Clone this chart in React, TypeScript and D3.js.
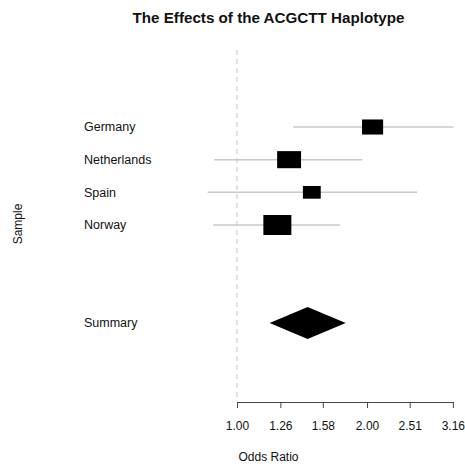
import React, { useEffect, useRef } from "react";
import * as d3 from "d3";

// study rows
const samples = ["Germany", "Netherlands", "Spain", "Norway"];
const oddsRatio = [2.06, 1.32, 1.49, 1.24];
const lowerCI = [1.35, 0.886, 0.855, 0.881];
const upperCI = [3.17, 1.95, 2.61, 1.73];
const weights = [0.21, 0.27, 0.15, 0.37];

// summary estimate
const summaryLabel = "Summary";
const summaryOR = 1.457;
const summaryLower = 1.19;
const summaryUpper = 1.785;

const tickValues = [1.0, 1.26, 1.58, 2.0, 2.51, 3.16];

const App = () => {
  const ref = useRef<SVGSVGElement>(null);

  useEffect(() => {
    const width = 465;
    const height = 466;
    const svg = d3.select(ref.current);
    svg.selectAll("*").remove();

    const font = "'Liberation Sans', Arial, Helvetica, sans-serif";

    const x = d3.scaleLog().domain([1, 3.1623]).range([237, 453]);
    // row index -> y (summary sits at row 6)
    const y = d3.scaleLinear().domain([0, 6]).range([127, 323]);
    const boxH = d3.scaleSqrt().domain([0, 0.37]).range([0, 20]);

    const rows = samples.map((s, i) => ({
      name: s,
      or: oddsRatio[i],
      lo: lowerCI[i],
      hi: upperCI[i],
      w: weights[i],
      row: i,
    }));

    // title
    svg
      .append("text")
      .attr("x", 268.5)
      .attr("y", 23)
      .attr("text-anchor", "middle")
      .attr("font-family", font)
      .attr("font-weight", "bold")
      .attr("font-size", 15.2)
      .attr("fill", "#111")
      .text("The Effects of the ACGCTT Haplotype");

    // null line
    svg
      .append("line")
      .attr("x1", x(1))
      .attr("x2", x(1))
      .attr("y1", 50)
      .attr("y2", 398)
      .attr("stroke", "#cfcfcf")
      .attr("stroke-width", 1.2)
      .attr("stroke-dasharray", "5,4");

    // confidence intervals
    svg
      .append("g")
      .selectAll("line")
      .data(rows)
      .enter()
      .append("line")
      .attr("x1", (d) => x(d.lo))
      .attr("x2", (d) => x(d.hi))
      .attr("y1", (d) => y(d.row))
      .attr("y2", (d) => y(d.row))
      .attr("stroke", "#c8c8c8")
      .attr("stroke-width", 1.5);

    // boxes
    svg
      .append("g")
      .selectAll("rect")
      .data(rows)
      .enter()
      .append("rect")
      .attr("x", (d) => x(d.or) - (boxH(d.w) * 1.4) / 2)
      .attr("y", (d) => y(d.row) - boxH(d.w) / 2)
      .attr("width", (d) => boxH(d.w) * 1.4)
      .attr("height", (d) => boxH(d.w))
      .attr("fill", "#000");

    // summary diamond
    const sy = y(6);
    svg
      .append("path")
      .attr(
        "d",
        `M${x(summaryLower)},${sy}L${x(summaryOR)},${sy - 16}L${x(summaryUpper)},${sy}L${x(summaryOR)},${sy + 16}Z`
      )
      .attr("fill", "#000");

    // row labels
    svg
      .append("g")
      .selectAll("text")
      .data([...samples.map((s, i) => ({ s, r: i })), { s: summaryLabel, r: 6 }])
      .enter()
      .append("text")
      .attr("x", 84)
      .attr("y", (d) => y(d.r))
      .attr("dy", "0.35em")
      .attr("font-family", font)
      .attr("font-size", 12.5)
      .attr("fill", "#111")
      .text((d) => d.s);

    // y axis title
    svg
      .append("text")
      .attr("transform", "translate(22,224) rotate(-90)")
      .attr("text-anchor", "middle")
      .attr("font-family", font)
      .attr("font-size", 12)
      .attr("fill", "#111")
      .text("Sample");

    // x axis
    const axis = svg
      .append("g")
      .attr("transform", "translate(0,402)")
      .call(
        d3
          .axisBottom(x)
          .tickValues(tickValues)
          .tickFormat((d) => d3.format(".2f")(d as number))
          .tickSize(6)
          .tickSizeOuter(0)
          .tickPadding(13)
      );
    axis.select(".domain").attr("stroke", "#444");
    axis.selectAll(".tick line").attr("stroke", "#444");
    axis
      .selectAll("text")
      .attr("font-family", font)
      .attr("font-size", 12)
      .attr("fill", "#111");

    svg
      .append("text")
      .attr("x", 268.5)
      .attr("y", 461)
      .attr("text-anchor", "middle")
      .attr("font-family", font)
      .attr("font-size", 12)
      .attr("fill", "#111")
      .text("Odds Ratio");

    svg.attr("width", width).attr("height", height);
  }, []);

  return (
    <svg
      ref={ref}
      width={465}
      height={466}
      style={{ position: "absolute", left: 0, top: 0, background: "#fff" }}
    ></svg>
  );
};

export default App;
